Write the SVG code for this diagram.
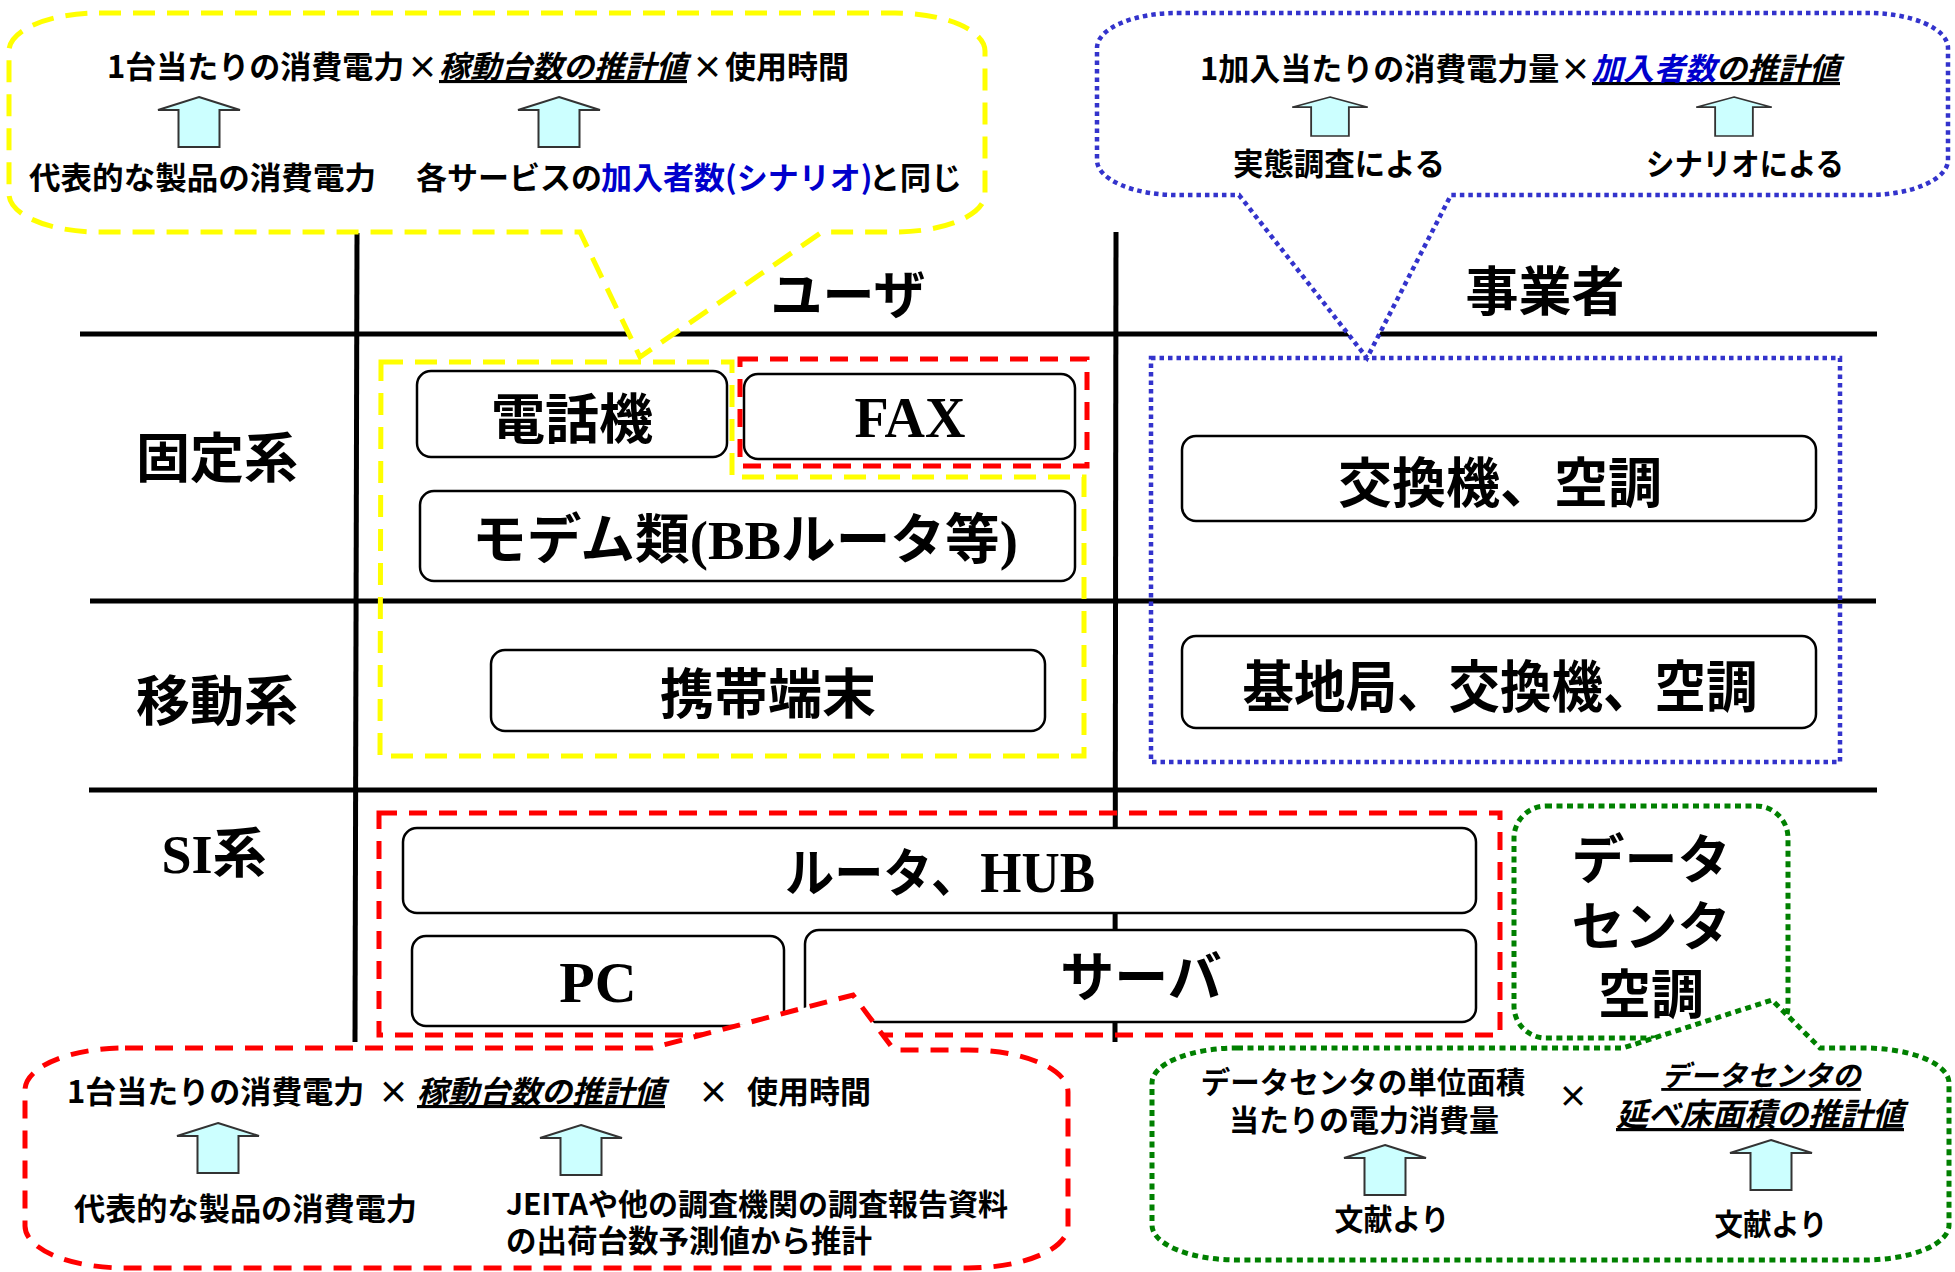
<svg xmlns="http://www.w3.org/2000/svg" width="1955" height="1272" viewBox="0 0 1955 1272">
<style>
.jp{font-family:'Noto Sans CJK JP','Noto Sans CJK SC',sans-serif;font-weight:700;fill:#000}
.ser{font-family:'Liberation Serif',serif;font-weight:700}
.big{font-size:54px}
.sm{font-size:31px}
.gs{font-size:30px}
.it{font-style:italic;text-decoration:underline}
.blue{fill:#0000CC}
.mid{text-anchor:middle}
.grid line{stroke:#000;stroke-width:5}
.node rect{fill:#fff;stroke:#000;stroke-width:2.5}
.arr{fill:#CCFFFF;stroke:#333;stroke-width:2}
.yel{fill:none;stroke:#FFFF00;stroke-width:5;stroke-dasharray:22 12}
.red{fill:none;stroke:#FF0000;stroke-width:5;stroke-dasharray:18 12}
.blu{fill:none;stroke:#3333CC;stroke-width:4.5;stroke-dasharray:4.5 4}
.grn{fill:none;stroke:#008000;stroke-width:5;stroke-dasharray:6 4.5}
.bub{fill:#fff}
</style>
<defs>
<path id="arr" d="M0,0 L41,13 L20.5,13 L20.5,50 L-20.5,50 L-20.5,13 L-41,13 Z"/>
</defs>

<g id="grid" class="grid">
<line x1="80" y1="334" x2="1877" y2="334"/>
<line x1="90" y1="601" x2="1876" y2="601"/>
<line x1="89" y1="790" x2="1877" y2="790"/>
<line x1="357" y1="233" x2="355" y2="1042"/>
<line x1="1116" y1="232" x2="1115" y2="1042"/>
</g>

<g id="headers">
<text class="jp mid" x="848" y="314" font-size="52">ユーザ</text>
<text class="jp mid" x="1545" y="311" font-size="53">事業者</text>
<text class="jp mid big" x="217" y="478">固定系</text>
<text class="jp mid big" x="217" y="721">移動系</text>
<text class="jp mid big" x="214" y="873"><tspan class="ser">SI</tspan>系</text>
</g>

<g id="node-phone" class="node">
<rect x="417" y="371" width="310" height="86" rx="14"/>
<text class="jp mid big" x="572" y="439">電話機</text>
</g>
<g id="node-fax" class="node">
<rect x="744" y="374" width="331" height="85" rx="14"/>
<text class="ser mid" x="910" y="437" font-size="56">FAX</text>
</g>
<g id="node-modem" class="node">
<rect x="420" y="491" width="655" height="90" rx="14"/>
<text class="jp mid big" x="745" y="559" textLength="546" lengthAdjust="spacingAndGlyphs">モデム類<tspan class="ser">(BB</tspan>ルータ等<tspan class="ser">)</tspan></text>
</g>
<g id="node-mobile" class="node">
<rect x="491" y="650" width="554" height="81" rx="14"/>
<text class="jp mid big" x="768" y="714">携帯端末</text>
</g>
<g id="node-switch" class="node">
<rect x="1182" y="436" width="634" height="85" rx="14"/>
<text class="jp mid big" x="1500" y="503">交換機、空調</text>
</g>
<g id="node-base" class="node">
<rect x="1182" y="636" width="634" height="92" rx="14"/>
<text class="jp mid" x="1500" y="707" font-size="56" textLength="515" lengthAdjust="spacingAndGlyphs">基地局、交換機、空調</text>
</g>
<g id="node-router" class="node">
<rect x="403" y="828" width="1073" height="85" rx="14"/>
<text class="jp mid" x="940" y="892" font-size="52" textLength="310" lengthAdjust="spacingAndGlyphs">ルータ、<tspan class="ser" font-size="56">HUB</tspan></text>
</g>
<g id="node-pc" class="node">
<rect x="412" y="936" width="372" height="90" rx="14"/>
<text class="ser mid" x="598" y="1002" font-size="58">PC</text>
</g>
<g id="node-server" class="node">
<rect x="805" y="930" width="671" height="92" rx="14"/>
<text class="jp mid big" x="1141" y="997">サーバ</text>
</g>

<g id="group-user">
<path class="yel" d="M381,362 H732 V477 H1084 V756 H380 Z"/>
</g>
<g id="group-fax">
<rect class="red" x="740" y="359" width="347" height="107"/>
</g>
<g id="group-operator">
<rect class="blu" x="1151" y="358" width="689" height="404"/>
</g>
<g id="group-si">
<rect class="red" x="379" y="813" width="1121" height="222"/>
</g>
<g id="node-dc">
<rect class="grn" x="1514" y="806" width="274" height="232" rx="32"/>
<text class="jp mid" font-size="53"><tspan x="1651" y="879">データ</tspan><tspan x="1651" y="946">センタ</tspan><tspan x="1651" y="1014">空調</tspan></text>
</g>

<g id="callout-user">
<path class="bub" d="M99,13 H895 A90,38 0 0 1 985,51 V194 A90,38 0 0 1 895,232 H822 L640,357 L580,232 H99 A90,38 0 0 1 9,194 V51 A90,38 0 0 1 99,13 Z"/>
<path class="yel" d="M99,13 H895 A90,38 0 0 1 985,51 V194 A90,38 0 0 1 895,232 H822 L640,357 L580,232 H99 A90,38 0 0 1 9,194 V51 A90,38 0 0 1 99,13 Z"/>
<text class="jp sm" y="78"><tspan x="107">1台当たりの消費電力</tspan><tspan x="407">×</tspan><tspan x="439" class="it">稼動台数の推計値</tspan><tspan x="692">×</tspan><tspan x="725">使用時間</tspan></text>
<use href="#arr" class="arr" x="199" y="97"/>
<use href="#arr" class="arr" x="559" y="97"/>
<text class="jp sm" x="29" y="189" textLength="347" lengthAdjust="spacingAndGlyphs">代表的な製品の消費電力</text>
<text class="jp sm" x="416" y="189">各サービスの</text>
<text class="jp sm blue" x="601" y="189">加入者数(シナリオ)</text>
<text class="jp sm" x="869" y="189">と同じ</text>
</g>

<g id="callout-operator">
<path class="bub" d="M1177,13 H1868 A80,35 0 0 1 1948,48 V160 A80,35 0 0 1 1868,195 H1451 L1367,358 L1239,195 H1177 A80,35 0 0 1 1097,160 V48 A80,35 0 0 1 1177,13 Z"/>
<path class="blu" d="M1177,13 H1868 A80,35 0 0 1 1948,48 V160 A80,35 0 0 1 1868,195 H1451 L1367,358 L1239,195 H1177 A80,35 0 0 1 1097,160 V48 A80,35 0 0 1 1177,13 Z"/>
<text class="jp sm" y="80"><tspan x="1200">1加入当たりの消費電力量</tspan><tspan x="1560">×</tspan><tspan x="1592" class="it"><tspan class="blue">加入者数</tspan>の推計値</tspan></text>
<use href="#arr" class="arr" transform="translate(1330,97) scale(0.92,0.78)"/>
<use href="#arr" class="arr" transform="translate(1734,97) scale(0.92,0.78)"/>
<text class="jp sm mid" x="1339" y="175" textLength="212" lengthAdjust="spacingAndGlyphs">実態調査による</text>
<text class="jp sm mid" x="1745" y="175" textLength="198" lengthAdjust="spacingAndGlyphs">シナリオによる</text>
</g>

<g id="callout-si">
<path class="bub" d="M125,1048 H652 L853,995 L894,1050 H968 A100,42 0 0 1 1068,1092 V1226 A100,42 0 0 1 968,1268 H125 A100,42 0 0 1 25,1226 V1090 A100,42 0 0 1 125,1048 Z"/>
<path class="red" d="M125,1048 H652 L853,995 L894,1050 H968 A100,42 0 0 1 1068,1092 V1226 A100,42 0 0 1 968,1268 H125 A100,42 0 0 1 25,1226 V1090 A100,42 0 0 1 125,1048 Z"/>
<text class="jp sm" y="1103"><tspan x="67">1台当たりの消費電力</tspan><tspan x="378">×</tspan><tspan x="417" class="it">稼動台数の推計値</tspan><tspan x="698">×</tspan><tspan x="747">使用時間</tspan></text>
<use href="#arr" class="arr" x="218" y="1123"/>
<use href="#arr" class="arr" x="581" y="1125"/>
<text class="jp sm" x="74" y="1220" textLength="343" lengthAdjust="spacingAndGlyphs">代表的な製品の消費電力</text>
<text class="jp" font-size="30"><tspan x="506" y="1215">JEITAや他の調査機関の調査報告資料</tspan><tspan x="506" y="1252" font-size="30.5">の出荷台数予測値から推計</tspan></text>
</g>

<g id="callout-dc">
<path class="bub" d="M1237,1048 H1623 L1772,1000 L1820,1048 H1864 A85,35 0 0 1 1949,1083 V1225 A85,35 0 0 1 1864,1260 H1237 A85,35 0 0 1 1152,1225 V1083 A85,35 0 0 1 1237,1048 Z"/>
<path class="grn" d="M1237,1048 H1623 L1772,1000 L1820,1048 H1864 A85,35 0 0 1 1949,1083 V1225 A85,35 0 0 1 1864,1260 H1237 A85,35 0 0 1 1152,1225 V1083 A85,35 0 0 1 1237,1048 Z"/>
<text class="jp gs mid"><tspan x="1363" y="1093" font-size="29.5">データセンタの単位面積</tspan><tspan x="1364" y="1131">当たりの電力消費量</tspan></text>
<text class="jp gs mid" x="1573" y="1107">×</text>
<text class="jp mid it"><tspan x="1761" y="1086" font-size="28.5">データセンタの</tspan><tspan x="1760" y="1126" font-size="32">延べ床面積の推計値</tspan></text>
<use href="#arr" class="arr" x="1385" y="1145"/>
<use href="#arr" class="arr" x="1771" y="1140"/>
<text class="jp gs mid" x="1392" y="1230" textLength="115" lengthAdjust="spacingAndGlyphs">文献より</text>
<text class="jp gs mid" x="1771" y="1235" textLength="113" lengthAdjust="spacingAndGlyphs">文献より</text>
</g>
</svg>
